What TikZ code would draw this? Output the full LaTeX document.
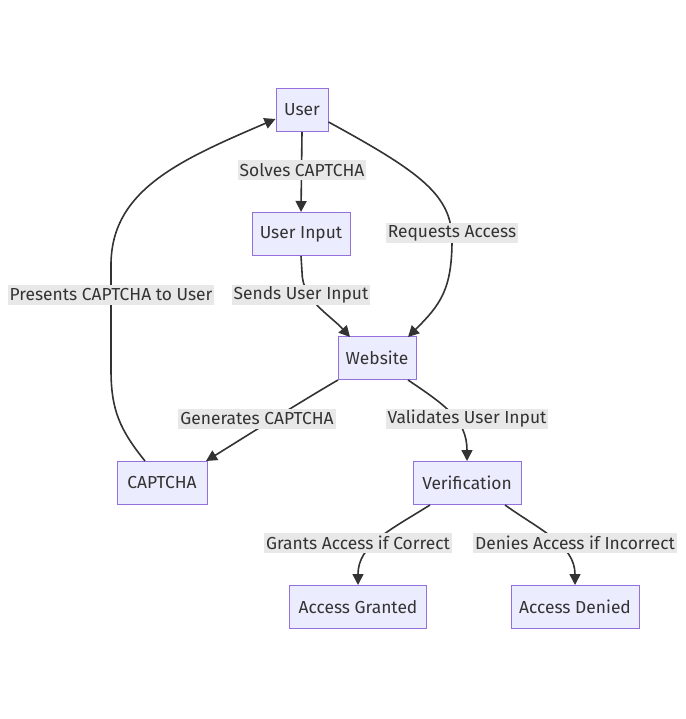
\documentclass[tikz,border=0pt]{standalone}
\usepackage{fontspec}
\setmainfont{Fira Sans}
\usetikzlibrary{arrows.meta}
\definecolor{boxfill}{HTML}{ECECFF}
\definecolor{boxline}{HTML}{9370DB}
\definecolor{edgec}{HTML}{333333}
\definecolor{lblbg}{HTML}{E8E8E8}
\begin{document}
\begin{tikzpicture}[x=1pt,y=-1pt,
  box/.style={draw=boxline, fill=boxfill, line width=1pt, minimum height=43pt, inner sep=0pt, text=edgec, font=\fontsize{17.4}{20}\selectfont},
  lbl/.style={fill=lblbg, inner xsep=2pt, inner ysep=0pt, minimum height=20pt, text=edgec, font=\fontsize{17.4}{20}\selectfont},
  conn/.style={draw=edgec, line width=1.6pt, -{Triangle[length=11pt,width=11pt]}}]
\useasboundingbox (0,0) rectangle (685,719);
% nodes
\node[box, minimum width=52pt] (user) at (302,110) {User};
\node[box, minimum width=98pt] (ui) at (301,234) {User Input};
\node[box, minimum width=78pt] (web) at (377,358) {Website};
\node[box, minimum width=90pt] (cap) at (162,483) {CAPTCHA};
\node[box, minimum width=108pt] (ver) at (467,483) {Verification};
\node[box, minimum width=137pt] (ag) at (358,607) {Access Granted};
\node[box, minimum width=128pt] (ad) at (575,607) {Access Denied};
% connectors
\draw[conn] (user.south) -- (ui.north);
\draw[conn] (user.east |- 0,122) .. controls (420,172) and (452,195) .. (452,240)
   .. controls (452,290) and (440,305) .. (408,337);
\draw[conn] (ui.south) -- (302,272) .. controls (302,300) and (330,315) .. (350,337);
\draw[conn] (145,461) .. controls (120,430) and (111,410) .. (111,370) -- (111,265)
   .. controls (111,190) and (180,160) .. (user.west |- 0,119);
\draw[conn] (338,380) .. controls (300,402) and (240,440) .. (206,461);
\draw[conn] (408,380) .. controls (445,405) and (467,420) .. (ver.north);
\draw[conn] (430,505) .. controls (390,530) and (358,545) .. (ag.north);
\draw[conn] (505,505) .. controls (540,530) and (575,545) .. (ad.north);
% labels
\node[lbl] (l1) at (302,170) {Solves CAPTCHA};
\node[lbl] (l2) at (452,233) {Requests Access};
\node[lbl] (l3) at (301,295) {Sends User Input};
\node[lbl] (l4) at (111,295) {Presents CAPTCHA to User};
\node[lbl] (l5) at (257,419) {Generates CAPTCHA};
\node[lbl] (l6) at (467,419) {Validates User Input};
\node[lbl] (l7) at (358,543) {Grants Access if Correct};
\node[lbl] (l8) at (575,543) {Denies Access if Incorrect};
\end{tikzpicture}
\end{document}
